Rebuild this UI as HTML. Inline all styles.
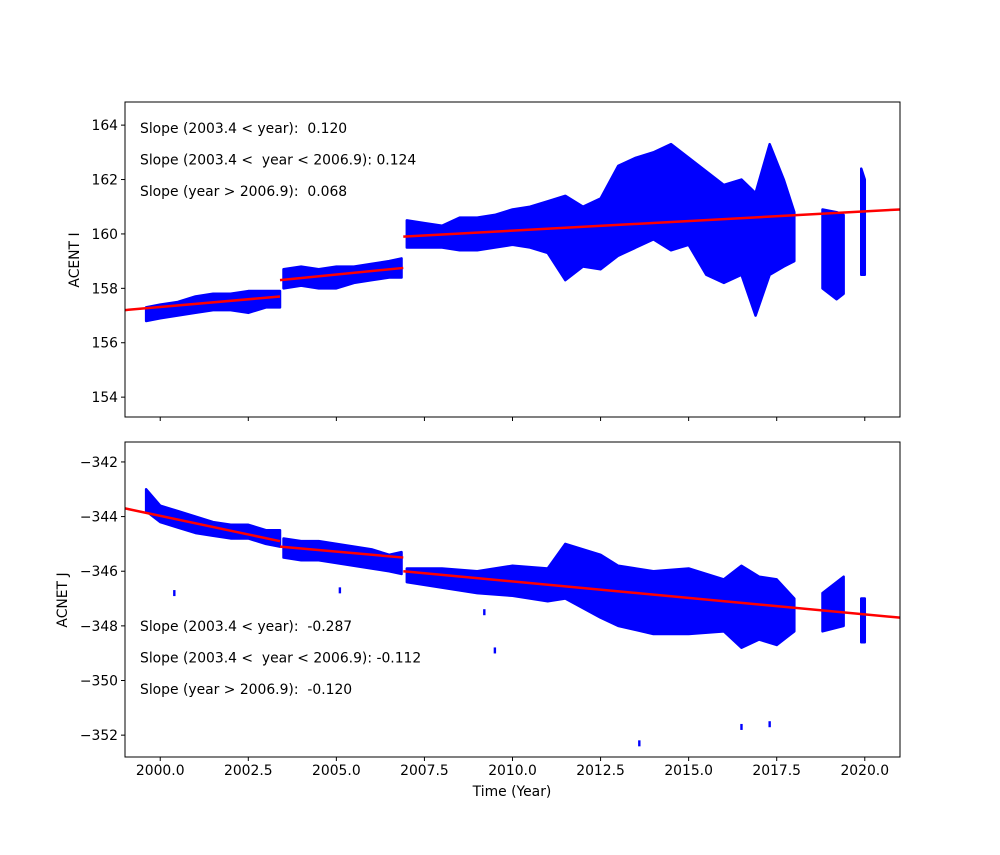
<!DOCTYPE html>
<html><head><meta charset="utf-8"><style>
body{margin:0;background:#fff}
svg text{font-family:"DejaVu Sans","Liberation Sans",sans-serif;font-size:13.9px;fill:#000}
</style></head><body>
<svg id="fig" width="1000" height="850" xmlns="http://www.w3.org/2000/svg">
<rect width="1000" height="850" fill="#fff"/>
<g id="top"></g>
<g id="bot"></g>
<text x="512" y="796" text-anchor="middle">Time (Year)</text>
<text transform="translate(79,260) rotate(-90)" text-anchor="middle">ACENT I</text>
<text transform="translate(67,600) rotate(-90)" text-anchor="middle">ACNET J</text>
</svg>
<script>
const topT=[1999.6,2000.0,2000.5,2001.0,2001.5,2002.0,2002.5,2003.0,2003.4,2003.5,2004.0,2004.5,2005.0,2005.5,2006.0,2006.5,2006.85,2007.0,2007.5,2008.0,2008.5,2009.0,2009.5,2010.0,2010.5,2011.0,2011.5,2012.0,2012.5,2013.0,2013.5,2014.0,2014.5,2015.0,2015.5,2016.0,2016.5,2016.9,2017.3,2017.7,2018.0,2018.8,2019.2,2019.4,2019.9,2020.0];
const topLo=[156.8,156.9,157.0,157.1,157.2,157.2,157.1,157.3,157.3,158.0,158.1,158.0,158.0,158.2,158.3,158.4,158.4,159.5,159.5,159.5,159.4,159.4,159.5,159.6,159.5,159.3,158.3,158.8,158.7,159.2,159.5,159.8,159.4,159.6,158.5,158.2,158.5,157.0,158.5,158.8,159.0,158.0,157.6,157.8,158.5,158.5];
const topHi=[157.3,157.4,157.5,157.7,157.8,157.8,157.9,157.9,157.9,158.7,158.8,158.7,158.8,158.8,158.9,159.0,159.1,160.5,160.4,160.3,160.6,160.6,160.7,160.9,161.0,161.2,161.4,161.0,161.3,162.5,162.8,163.0,163.3,162.8,162.3,161.8,162.0,161.5,163.3,162.0,160.8,160.9,160.8,160.7,162.4,162.0];
const topBreaks=[2003.45,2006.95,2018.4,2019.6];
const botT=[1999.6,2000.0,2000.5,2001.0,2001.5,2002.0,2002.5,2003.0,2003.4,2003.5,2004.0,2004.5,2005.0,2005.5,2006.0,2006.5,2006.85,2007.0,2008.0,2009.0,2010.0,2011.0,2011.5,2012.5,2013.0,2014.0,2015.0,2016.0,2016.5,2017.0,2017.5,2018.0,2018.8,2019.4,2019.9,2020.0];
const botLo=[-343.8,-344.2,-344.4,-344.6,-344.7,-344.8,-344.8,-345.0,-345.1,-345.5,-345.6,-345.6,-345.7,-345.8,-345.9,-346.0,-346.1,-346.4,-346.6,-346.8,-346.9,-347.1,-347.0,-347.7,-348.0,-348.3,-348.3,-348.2,-348.8,-348.5,-348.7,-348.2,-348.2,-348.0,-348.6,-348.6];
const botHi=[-343.0,-343.6,-343.8,-344.0,-344.2,-344.3,-344.3,-344.5,-344.5,-344.8,-344.9,-344.9,-345.0,-345.1,-345.2,-345.4,-345.3,-345.9,-345.9,-346.0,-345.8,-345.9,-345.0,-345.4,-345.8,-346.0,-345.9,-346.3,-345.8,-346.2,-346.3,-347.0,-346.8,-346.2,-347.0,-347.0];
const botBreaks=[2003.45,2006.95,2018.4,2019.6];
const botOutT=[2000.4,2005.1,2009.2,2009.5,2013.6,2016.5,2017.3];
const botOutV=[-346.8,-346.7,-347.5,-348.9,-352.3,-351.7,-351.6];
const topFitX=[[1999,2003.4],[2003.4,2006.9],[2006.9,2021]];
const topFitY=[[157.2,157.7],[158.3,158.75],[159.9,160.9]];
const botFitX=[[1999,2003.4],[2003.4,2006.9],[2006.9,2021]];
const botFitY=[[-343.7,-344.9],[-345.1,-345.5],[-346.0,-347.7]];
const xTicks=[2000,2002.5,2005,2007.5,2010,2012.5,2015,2017.5,2020];
const topYTicks=[154,156,158,160,162,164];
const botYTicks=[-352,-350,-348,-346,-344,-342];
const topLabels=["Slope (2003.4 < year):  0.120","Slope (2003.4 <  year < 2006.9): 0.124","Slope (year > 2006.9):  0.068"];
const botLabels=["Slope (2003.4 < year):  -0.287","Slope (2003.4 <  year < 2006.9): -0.112","Slope (year > 2006.9):  -0.120"];

const NS="http://www.w3.org/2000/svg";
const L=125,R=900,X0=1999,X1=2021;
const sx=v=>L+(v-X0)/(X1-X0)*(R-L);
function mk(tag,at,par){const e=document.createElementNS(NS,tag);for(const k in at)e.setAttribute(k,at[k]);par.appendChild(e);return e;}
function panel(g,top,bot,y0,y1,T,Lo,Hi,breaks,fx,fy,yt,labels,showX,pre,outT,outV,labY){
  const sy=v=>bot-(v-y0)/(y1-y0)*(bot-top);
  let segs=[[]];
  for(let i=0;i<T.length;i++){
    if(i>0&&breaks.some(b=>T[i-1]<b&&T[i]>b))segs.push([]);
    segs[segs.length-1].push(i);
  }
  segs.forEach((s,k)=>{
    let pts=s.map(i=>sx(T[i])+','+sy(Hi[i]));
    pts=pts.concat(s.slice().reverse().map(i=>sx(T[i])+','+sy(Lo[i])));
    const p=mk('polygon',{points:pts.join(' '),fill:'#0000ff',stroke:'#0000ff','stroke-width':2.5,'stroke-linejoin':'round'},g);
    
    
  });
  outT.forEach((t,i)=>{
    const r=mk('rect',{x:sx(t)-1.2,y:sy(outV[i])-3,width:2.4,height:6,fill:'#0000ff'},g);
    
    
  });
  fx.forEach((x,i)=>{
    const l=mk('line',{x1:sx(x[0]),y1:sy(fy[i][0]),x2:sx(x[1]),y2:sy(fy[i][1]),stroke:'#ff0000','stroke-width':2.5},g);
    
    
  });
  const fr=mk('rect',{x:L,y:top,width:R-L,height:bot-top,fill:'none',stroke:'#000','stroke-width':1},g);
  
  
  xTicks.forEach(t=>{
    const tk=mk('line',{x1:sx(t),y1:bot,x2:sx(t),y2:bot+4,stroke:'#000'},g);
    
    
    if(showX){const tx=mk('text',{x:sx(t),y:bot+18,'text-anchor':'middle'},g);tx.textContent=t.toFixed(1);
      
      }
  });
  yt.forEach(t=>{
    const tk=mk('line',{x1:L-4,y1:sy(t),x2:L,y2:sy(t),stroke:'#000'},g);
    
    
    const tx=mk('text',{x:L-7,y:sy(t)+5,'text-anchor':'end'},g);tx.textContent=String(t).replace('-','\u2212');
    
    
  });
  labels.forEach((s,i)=>{
    const tx=mk('text',{x:140,y:labY+i*31.5,'xml:space':'preserve'},g);tx.textContent=s;tx.style.whiteSpace='pre';
    
    
  });
}
panel(document.getElementById('top'),102,417,153.27,164.85,topT,topLo,topHi,topBreaks,topFitX,topFitY,topYTicks,topLabels,false,'top',[],[],133);
panel(document.getElementById('bot'),442,757,-352.8,-341.27,botT,botLo,botHi,botBreaks,botFitX,botFitY,botYTicks,botLabels,true,'bottom',botOutT,botOutV,631);
</script>
</body></html>
